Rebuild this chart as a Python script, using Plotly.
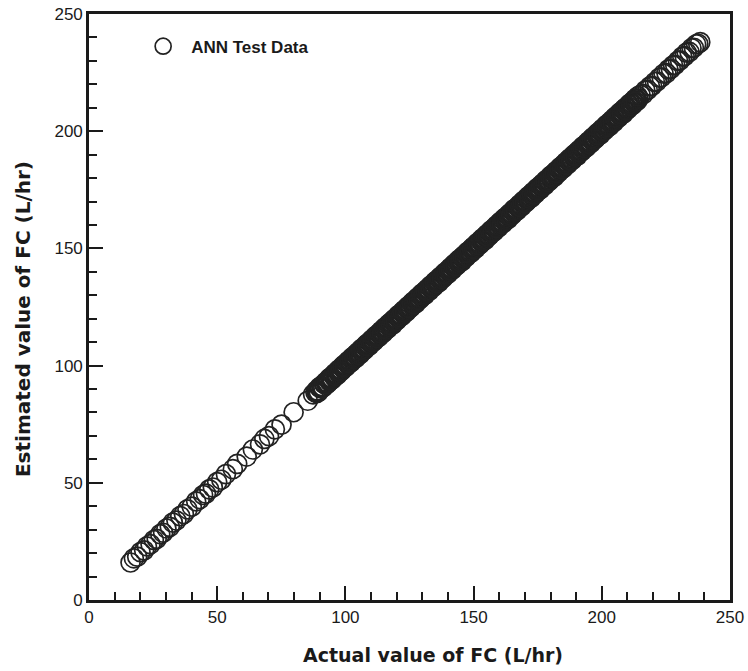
import plotly.graph_objects as go

# ---- data ----
actual_low = [16.2, 17.5, 18.8, 20.1, 21.5, 22.6, 24.0, 25.3, 26.4, 27.8,
              28.9, 30.2, 31.5, 32.7, 34.1, 35.6, 37.0, 38.4, 40.1, 41.8,
              43.2, 44.5, 45.6, 46.9, 48.3, 50.0, 51.6, 53.4, 56.1, 57.8,
              61.5, 63.9, 66.7, 68.4, 70.2, 72.5, 75.1, 79.8, 85.3, 87.4]
estimated_low = [16.0, 17.8, 18.5, 20.4, 21.2, 22.9, 23.8, 25.6, 26.1, 28.1,
                 28.7, 30.5, 31.2, 33.0, 33.9, 35.8, 36.7, 38.7, 39.8, 42.1,
                 43.0, 44.8, 45.4, 47.2, 48.0, 50.3, 51.3, 53.7, 55.8, 58.1,
                 61.2, 64.2, 66.4, 68.7, 69.9, 72.8, 74.8, 80.1, 85.0, 87.7]

actual_high = [88.3, 89.1, 90.2, 91.0, 91.9, 92.8, 93.7, 94.5, 95.6, 96.4,
               97.3, 98.1, 99.2, 100.0, 100.9, 101.8, 102.6, 103.7, 104.5, 105.4,
               106.3, 107.1, 108.2, 109.0, 109.9, 110.8, 111.6, 112.7, 113.5, 114.4,
               115.3, 116.1, 117.2, 118.0, 118.9, 119.8, 120.6, 121.7, 122.5, 123.4,
               124.3, 125.1, 126.2, 127.0, 127.9, 128.8, 129.6, 130.7, 131.5, 132.4,
               133.3, 134.1, 135.2, 136.0, 136.9, 137.8, 138.6, 139.7, 140.5, 141.4,
               142.3, 143.1, 144.2, 145.0, 145.9, 146.8, 147.6, 148.7, 149.5, 150.4,
               151.3, 152.1, 153.2, 154.0, 154.9, 155.8, 156.6, 157.7, 158.5, 159.4,
               160.3, 161.1, 162.2, 163.0, 163.9, 164.8, 165.6, 166.7, 167.5, 168.4,
               169.3, 170.1, 171.2, 172.0, 172.9, 173.8, 174.6, 175.7, 176.5, 177.4,
               178.3, 179.1, 180.2, 181.0, 181.9, 182.8, 183.6, 184.7, 185.5, 186.4,
               187.3, 188.1, 189.2, 190.0, 190.9, 191.8, 192.6, 193.7, 194.5, 195.4,
               196.3, 197.1, 198.2, 199.0, 199.9, 200.8, 201.6, 202.7, 203.5, 204.4,
               205.3, 206.1, 207.2, 208.0, 208.9, 209.8, 210.6, 211.7, 212.5, 213.4,
               214.3, 215.1, 216.2, 217.0, 217.9, 218.8, 219.6, 220.7, 221.5, 222.4,
               223.3, 224.1, 225.2, 226.0, 226.9, 227.8, 228.6, 229.7, 230.5, 231.4,
               232.3, 233.1, 234.2, 235.0, 235.9, 236.8, 237.6, 238.4]
estimated_high = [88.6, 88.8, 90.5, 90.7, 92.3, 92.5, 93.4, 94.9, 95.2, 96.8,
                  97.0, 98.5, 98.8, 100.4, 100.6, 102.1, 102.3, 104.0, 104.2, 105.8,
                  106.0, 107.5, 107.8, 109.4, 109.6, 111.1, 111.3, 113.0, 113.2, 114.8,
                  115.0, 116.5, 116.8, 118.4, 118.6, 120.1, 120.3, 122.0, 122.2, 123.8,
                  124.0, 125.5, 125.8, 127.4, 127.6, 129.1, 129.3, 131.0, 131.2, 132.8,
                  133.0, 134.5, 134.8, 136.4, 136.6, 138.1, 138.3, 140.0, 140.2, 141.8,
                  142.0, 143.5, 143.8, 145.4, 145.6, 147.1, 147.3, 149.0, 149.2, 150.8,
                  151.0, 152.5, 152.8, 154.4, 154.6, 156.1, 156.3, 158.0, 158.2, 159.8,
                  160.0, 161.5, 161.8, 163.4, 163.6, 165.1, 165.3, 167.0, 167.2, 168.8,
                  169.0, 170.5, 170.8, 172.4, 172.6, 174.1, 174.3, 176.0, 176.2, 177.8,
                  178.0, 179.5, 179.8, 181.4, 181.6, 183.1, 183.3, 185.0, 185.2, 186.8,
                  187.0, 188.5, 188.8, 190.4, 190.6, 192.1, 192.3, 194.0, 194.2, 195.8,
                  196.0, 197.5, 197.8, 199.4, 199.6, 201.1, 201.3, 203.0, 203.2, 204.8,
                  205.0, 206.5, 206.8, 208.4, 208.6, 210.1, 210.3, 212.0, 212.2, 213.8,
                  214.0, 215.5, 215.8, 217.4, 217.6, 219.1, 219.3, 221.0, 221.2, 222.8,
                  223.0, 224.5, 224.8, 226.4, 226.6, 228.1, 228.3, 230.0, 230.2, 231.8,
                  232.0, 233.5, 233.8, 235.4, 235.6, 237.1, 237.3, 238.0]

actual_high_b = [88.7, 89.6, 90.6, 91.4, 92.4, 93.2, 94.1, 95.0, 96.0, 96.9,
                 97.7, 98.6, 99.6, 100.4, 101.3, 102.2, 103.1, 104.1, 105.0, 105.8,
                 106.7, 107.6, 108.6, 109.4, 110.4, 111.2, 112.1, 113.1, 114.0, 114.8,
                 115.7, 116.6, 117.6, 118.5, 119.3, 120.2, 121.1, 122.1, 123.0, 123.8,
                 124.7, 125.6, 126.6, 127.5, 128.3, 129.2, 130.1, 131.1, 132.0, 132.8,
                 133.7, 134.6, 135.6, 136.5, 137.3, 138.2, 139.1, 140.1, 141.0, 141.8,
                 142.7, 143.6, 144.6, 145.5, 146.3, 147.2, 148.1, 149.1, 150.0, 150.8,
                 151.7, 152.6, 153.6, 154.5, 155.3, 156.2, 157.1, 158.1, 159.0, 159.8,
                 160.7, 161.6, 162.6, 163.5, 164.3, 165.2, 166.1, 167.1, 168.0, 168.8,
                 169.7, 170.6, 171.6, 172.5, 173.3, 174.2, 175.1, 176.1, 177.0, 177.8,
                 178.7, 179.6, 180.6, 181.5, 182.3, 183.2, 184.1, 185.1, 186.0, 186.8,
                 187.7, 188.6, 189.6, 190.5, 191.3, 192.2, 193.1, 194.1, 195.0, 195.8,
                 196.7, 197.6, 198.6, 199.5, 200.3, 201.2, 202.1, 203.1, 204.0, 204.8,
                 205.7, 206.6, 207.6, 208.5, 209.3, 210.2, 211.1, 212.1, 213.0, 213.8]
estimated_high_b = [89.4, 88.9, 91.3, 90.8, 93.1, 92.6, 94.9, 94.3, 96.8, 96.1,
                    98.5, 97.9, 100.4, 99.7, 102.1, 101.5, 103.9, 103.3, 105.8, 105.0,
                    107.5, 106.9, 109.4, 108.6, 111.2, 110.5, 112.9, 112.3, 114.8, 114.0,
                    116.5, 115.9, 118.4, 117.6, 120.1, 119.5, 121.9, 121.3, 123.8, 123.0,
                    125.5, 124.9, 127.4, 126.6, 129.1, 128.5, 130.9, 130.3, 132.8, 132.0,
                    134.5, 133.9, 136.4, 135.6, 138.1, 137.5, 139.9, 139.3, 141.8, 141.0,
                    143.5, 142.9, 145.4, 144.6, 147.1, 146.5, 148.9, 148.3, 150.8, 150.0,
                    152.5, 151.9, 154.4, 153.6, 156.1, 155.5, 157.9, 157.3, 159.8, 159.0,
                    161.5, 160.9, 163.4, 162.6, 165.1, 164.5, 166.9, 166.3, 168.8, 168.0,
                    170.5, 169.9, 172.4, 171.6, 174.1, 173.5, 175.9, 175.3, 177.8, 177.0,
                    179.5, 178.9, 181.4, 180.6, 183.1, 182.5, 184.9, 184.3, 186.8, 186.0,
                    188.5, 187.9, 190.4, 189.6, 192.1, 191.5, 193.9, 193.3, 195.8, 195.0,
                    197.5, 196.9, 199.4, 198.6, 201.1, 200.5, 202.9, 202.3, 204.8, 204.0,
                    206.5, 205.9, 208.4, 207.6, 210.1, 209.5, 211.9, 211.3, 213.8, 213.0]

actual_high_c = [88.9, 89.9, 90.8, 91.7, 92.6, 93.5, 94.4, 95.3, 96.2, 97.1,
                 98.0, 98.9, 99.8, 100.7, 101.6, 102.5, 103.4, 104.3, 105.2, 106.1,
                 107.0, 107.9, 108.8, 109.7, 110.6, 111.5, 112.4, 113.3, 114.2, 115.1,
                 116.0, 116.9, 117.8, 118.7, 119.6, 120.5, 121.4, 122.3, 123.2, 124.1,
                 125.0, 125.9, 126.8, 127.7, 128.6, 129.5, 130.4, 131.3, 132.2, 133.1,
                 134.0, 134.9, 135.8, 136.7, 137.6, 138.5, 139.4, 140.3, 141.2, 142.1,
                 143.0, 143.9, 144.8, 145.7, 146.6, 147.5, 148.4, 149.3, 150.2, 151.1,
                 152.0, 152.9, 153.8, 154.7, 155.6, 156.5, 157.4, 158.3, 159.2, 160.1,
                 161.0, 161.9, 162.8, 163.7, 164.6, 165.5, 166.4, 167.3, 168.2, 169.1,
                 170.0, 170.9, 171.8, 172.7, 173.6, 174.5, 175.4, 176.3, 177.2, 178.1,
                 179.0, 179.9, 180.8, 181.7, 182.6, 183.5, 184.4, 185.3, 186.2, 187.1,
                 188.0, 188.9, 189.8, 190.7, 191.6, 192.5, 193.4, 194.3, 195.2, 196.1,
                 197.0, 197.9, 198.8, 199.7, 200.6, 201.5, 202.4, 203.3, 204.2, 205.1,
                 206.0, 206.9, 207.8, 208.7, 209.6, 210.5, 211.4, 212.3, 213.2, 214.1]
estimated_high_c = [88.3, 90.7, 90.5, 92.2, 92.0, 94.3, 93.8, 96.0, 95.6, 97.9,
                    97.4, 99.7, 99.2, 101.4, 101.0, 103.3, 102.8, 105.0, 104.6, 106.9,
                    106.4, 108.7, 108.2, 110.4, 110.0, 112.3, 111.8, 114.0, 113.6, 115.9,
                    115.4, 117.7, 117.2, 119.4, 119.0, 121.3, 120.8, 123.0, 122.6, 124.9,
                    124.4, 126.7, 126.2, 128.4, 128.0, 130.3, 129.8, 132.0, 131.6, 133.9,
                    133.4, 135.7, 135.2, 137.4, 137.0, 139.3, 138.8, 141.0, 140.6, 142.9,
                    142.4, 144.7, 144.2, 146.4, 146.0, 148.3, 147.8, 150.0, 149.6, 151.9,
                    151.4, 153.7, 153.2, 155.4, 155.0, 157.3, 156.8, 159.0, 158.6, 160.9,
                    160.4, 162.7, 162.2, 164.4, 164.0, 166.3, 165.8, 168.0, 167.6, 169.9,
                    169.4, 171.7, 171.2, 173.4, 173.0, 175.3, 174.8, 177.0, 176.6, 178.9,
                    178.4, 180.7, 180.2, 182.4, 182.0, 184.3, 183.8, 186.0, 185.6, 187.9,
                    187.4, 189.7, 189.2, 191.4, 191.0, 193.3, 192.8, 195.0, 194.6, 196.9,
                    196.4, 198.7, 198.2, 200.4, 200.0, 202.3, 201.8, 204.0, 203.6, 205.9,
                    205.4, 207.7, 207.2, 209.4, 209.0, 211.3, 210.8, 213.0, 212.6, 214.9]

tick_vals = [0, 50, 100, 150, 200, 250]
tick_text = ["0", "50", "100", "150", "200", "250"]

actual = actual_low + actual_high + actual_high_b + actual_high_c
estimated = estimated_low + estimated_high + estimated_high_b + estimated_high_c

FONT = "Liberation Sans, Arial, Helvetica, sans-serif"
TITLE_FONT = "DejaVu Sans, Verdana, sans-serif"
INK = "#1a1a1a"

fig = go.Figure()
fig.add_trace(go.Scatter(
    x=actual, y=estimated, mode="markers", name="ANN Test Data",
    marker=dict(symbol="circle-open", size=19, color="#222222",
                line=dict(width=1.7, color="#222222")),
))

axis_common = dict(
    range=[0, 250], tickmode="array", tickvals=tick_vals, ticktext=tick_text,
    ticks="inside", ticklen=14, tickwidth=2.2, tickcolor=INK,
    minor=dict(dtick=10, ticks="inside", ticklen=8, tickwidth=1.5, tickcolor=INK),
    showline=True, linewidth=2.6, linecolor=INK, mirror=True,
    showgrid=False, zeroline=False, automargin=False,
    tickfont=dict(family=FONT, size=17, color=INK),
)

fig.update_xaxes(**axis_common)
fig.update_yaxes(**axis_common)

fig.update_layout(
    width=748, height=671,
    margin=dict(l=89, r=18, t=14, b=71),
    paper_bgcolor="white", plot_bgcolor="white",
    showlegend=True,
    legend=dict(x=0.072, y=0.975, xanchor="left", yanchor="top",
                bgcolor="rgba(0,0,0,0)", itemwidth=46,
                font=dict(family=FONT, size=17, color=INK, weight="bold")),
    annotations=[
        dict(text="<b>Actual value of FC (L/hr)</b>", xref="paper", yref="paper",
             x=0.536, y=-0.094, xanchor="center", yanchor="middle", showarrow=False,
             font=dict(family=TITLE_FONT, size=19, color=INK)),
        dict(text="<b>Estimated value of FC (L/hr)</b>", xref="paper", yref="paper",
             x=-0.104, y=0.48, xanchor="center", yanchor="middle", showarrow=False,
             textangle=-90, font=dict(family=TITLE_FONT, size=20, color=INK)),
    ],
)

fig.write_html("out.html", config={"displayModeBar": False},
               post_script="document.body.style.margin='0';document.body.style.overflow='hidden';")
